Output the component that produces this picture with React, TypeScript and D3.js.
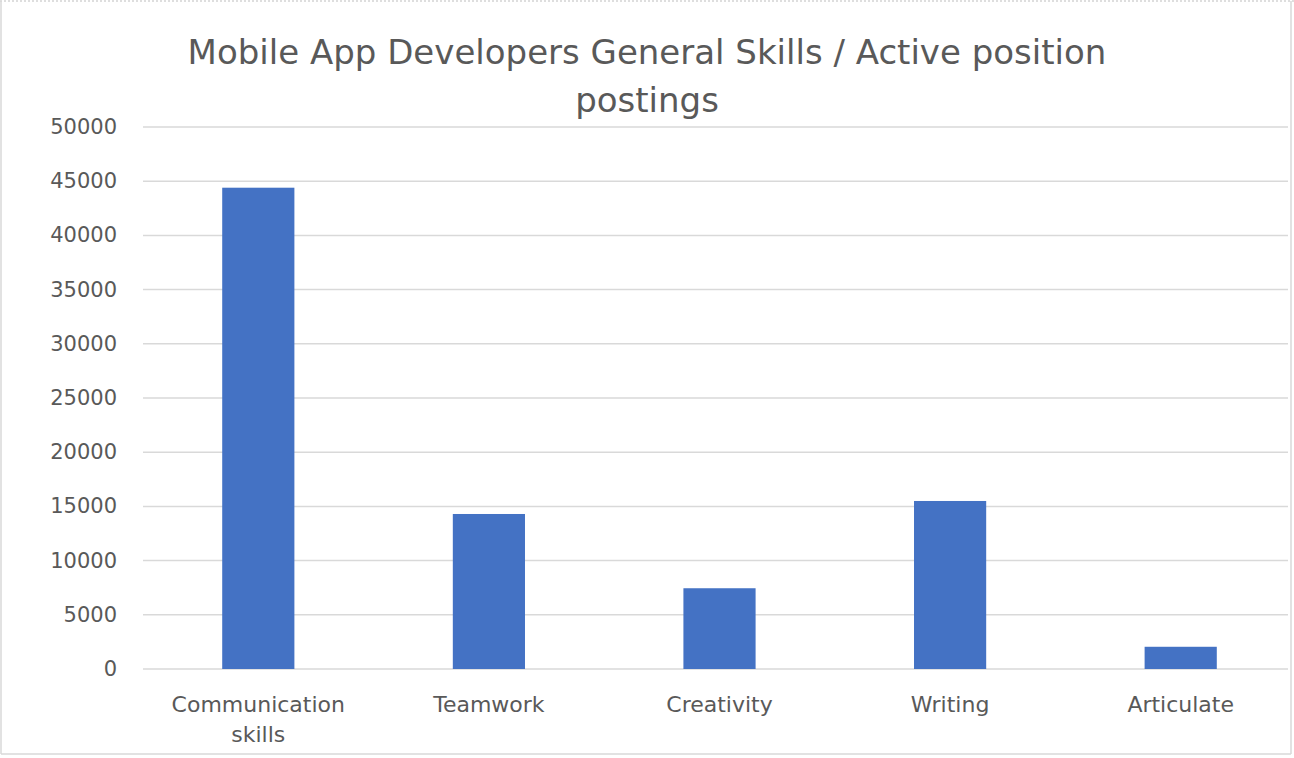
import React from "react";
import * as d3 from "d3";

const categories = ["Communication skills", "Teamwork", "Creativity", "Writing", "Articulate"];
const values = [44400, 14300, 7450, 15500, 2050];
const yTicks = [0, 5000, 10000, 15000, 20000, 25000, 30000, 35000, 40000, 45000, 50000];
const titleLines = ["Mobile App Developers General Skills / Active position", "postings"];

const W = 1294;
const H = 758;
const plot = { left: 143, right: 1296, top: 127, bottom: 669 };

export default function App() {
  const x = d3
    .scaleBand<string>()
    .domain(categories)
    .range([plot.left, plot.right])
    .paddingInner(0.687)
    .paddingOuter(0.3435);
  const y = d3.scaleLinear().domain([0, 50000]).range([plot.bottom, plot.top]);
  const font = "'DejaVu Sans', sans-serif";
  const textColor = "#595959";

  return (
    <svg
      width={W}
      height={H}
      style={{ position: "absolute", left: 0, top: 0, background: "#fff" }}
    >
      <rect x={0} y={0} width={W} height={H} fill="#fff" />
      {/* frame */}
      <line x1={0} y1={1} x2={W} y2={1} stroke="#bdbdbd" strokeWidth={1} strokeDasharray="2,2" />
      <line x1={1} y1={1} x2={1} y2={754} stroke="#d9d9d9" strokeWidth={1.5} />
      <line x1={1} y1={754} x2={1291} y2={754} stroke="#d9d9d9" strokeWidth={1.5} />
      <line x1={1291} y1={1} x2={1291} y2={754} stroke="#d9d9d9" strokeWidth={1.5} />

      {/* title */}
      {titleLines.map((t, i) => (
        <text
          key={i}
          x={647}
          y={64 + i * 48}
          textAnchor="middle"
          fontFamily={font}
          fontSize={34}
          fill={textColor}
        >
          {t}
        </text>
      ))}

      {/* gridlines and y labels */}
      {yTicks.map((t) => (
        <g key={t}>
          <line
            x1={plot.left}
            x2={1288}
            y1={y(t)}
            y2={y(t)}
            stroke="#d9d9d9"
            strokeWidth={1.5}
          />
          <text
            x={117}
            y={y(t) + 7}
            textAnchor="end"
            fontFamily={font}
            fontSize={21}
            fill={textColor}
          >
            {t}
          </text>
        </g>
      ))}

      {/* bars */}
      {categories.map((c, i) => (
        <rect
          key={c}
          x={x(c)}
          y={y(values[i])}
          width={x.bandwidth()}
          height={y(0) - y(values[i])}
          fill="#4472C4"
        />
      ))}

      {/* category labels */}
      {categories.map((c) => {
        const words = c === "Communication skills" ? ["Communication", "skills"] : [c];
        return (
          <text
            key={c}
            x={(x(c) as number) + x.bandwidth() / 2}
            y={712}
            textAnchor="middle"
            fontFamily={font}
            fontSize={22}
            fill={textColor}
          >
            {words.map((w, j) => (
              <tspan key={j} x={(x(c) as number) + x.bandwidth() / 2} dy={j === 0 ? 0 : 30}>
                {w}
              </tspan>
            ))}
          </text>
        );
      })}
    </svg>
  );
}
